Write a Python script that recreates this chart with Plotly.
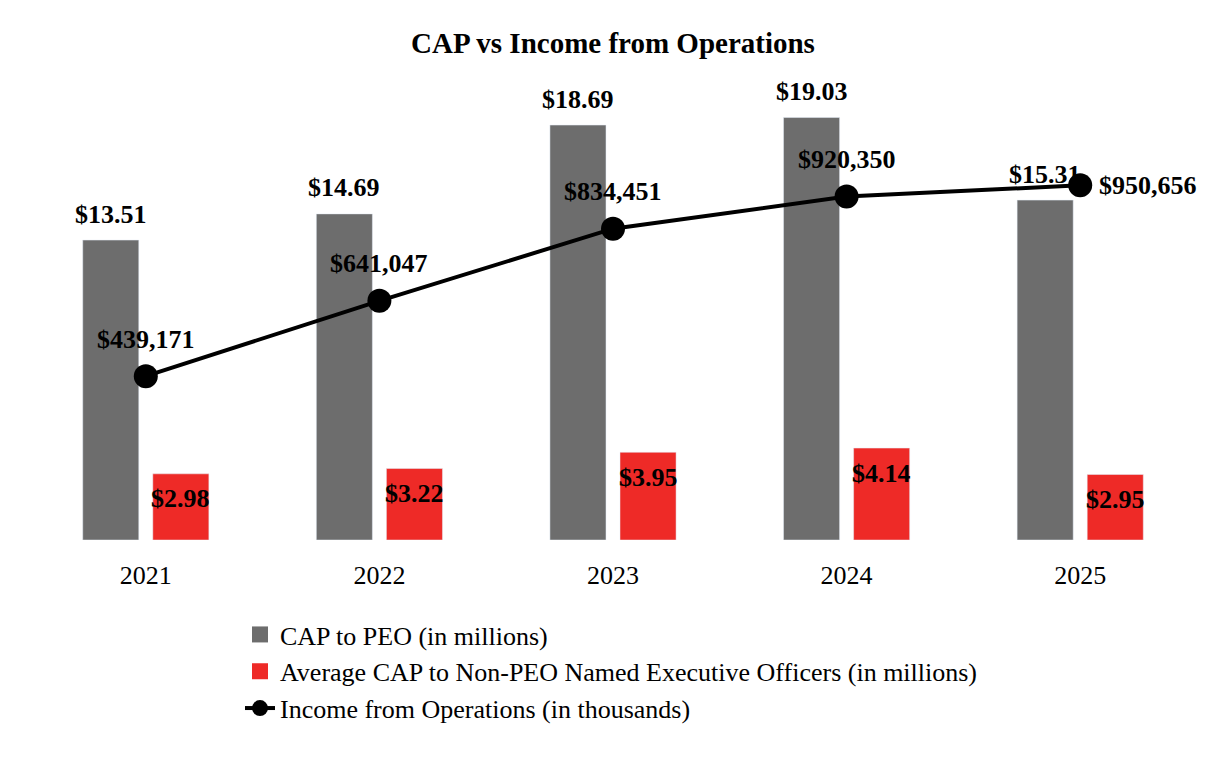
import plotly.graph_objects as go

years = ["2021", "2022", "2023", "2024", "2025"]
cap_peo = [13.51, 14.69, 18.69, 19.03, 15.31]
cap_neo = [2.98, 3.22, 3.95, 4.14, 2.95]
income = [439171, 641047, 834451, 920350, 950656]

cap_peo_labels = ["$%.2f" % v for v in cap_peo]
cap_neo_labels = ["$%.2f" % v for v in cap_neo]
income_labels = ["${:,}".format(v) for v in income]

FONT = "Liberation Serif"
GRAY = "#6d6d6d"
RED = "#ee2a27"

fig = go.Figure()
fig.add_trace(go.Bar(x=years, y=cap_peo, name="CAP to PEO (in millions)",
                     marker_color=GRAY, yaxis="y", showlegend=False))
fig.add_trace(go.Bar(x=years, y=cap_neo,
                     name="Average CAP to Non-PEO Named Executive Officers (in millions)",
                     marker_color=RED, yaxis="y", showlegend=False))
# legend proxies (larger square symbols)
fig.add_trace(go.Scatter(x=[years[0]], y=[None], mode="markers", name="CAP to PEO (in millions)",
                         marker=dict(symbol="square", size=26, color=GRAY)))
fig.add_trace(go.Scatter(x=[years[0]], y=[None], mode="markers",
                         name="Average CAP to Non-PEO Named Executive Officers (in millions)",
                         marker=dict(symbol="square", size=26, color=RED)))
fig.add_trace(go.Scatter(x=years, y=income, name="Income from Operations (in thousands)",
                         mode="lines+markers", yaxis="y2",
                         line=dict(color="black", width=4),
                         marker=dict(size=24, color="black")))

ann = []
lab_font = dict(family=FONT, size=26, color="black", weight="bold")
for i in range(len(years)):
    ann.append(dict(x=i, y=cap_peo[i], xref="x", yref="y", text=cap_peo_labels[i],
                    showarrow=False, xshift=-35, yshift=26, yanchor="middle",
                    font=lab_font))
    ann.append(dict(x=i, y=cap_neo[i], xref="x", yref="y", text=cap_neo_labels[i],
                    showarrow=False, xshift=35, yshift=-25, yanchor="middle",
                    font=lab_font))
    last = i == len(years) - 1
    ann.append(dict(x=i, y=income[i], xref="x", yref="y2", text=income_labels[i],
                    showarrow=False, xshift=68 if last else 0, yshift=0 if last else 37,
                    yanchor="middle", font=lab_font))

fig.update_layout(
    width=1226, height=760,
    margin=dict(l=29, r=29, t=96, b=220),
    paper_bgcolor="white", plot_bgcolor="white",
    title=dict(text="<b>CAP vs Income from Operations</b>", x=0.5, xanchor="center",
               y=1 - 43 / 760, yanchor="middle", yref="container",
               font=dict(family=FONT, size=29, color="black")),
    barmode="group", bargap=0.4, bargroupgap=0.2,
    xaxis=dict(type="category", categoryorder="array", categoryarray=years,
               range=[-0.5, len(years) - 0.5], showgrid=False, showline=False,
               zeroline=False, ticks="", ticklabelstandoff=17,
               tickfont=dict(family=FONT, size=26, color="black")),
    yaxis=dict(range=[0, 20], visible=False, showgrid=False, zeroline=False),
    yaxis2=dict(range=[0, 1190000], overlaying="y", side="right", visible=False,
                showgrid=False, zeroline=False),
    legend=dict(x=(240 - 29) / 1168, xanchor="left", y=-0.16, yanchor="top",
                font=dict(family=FONT, size=26, color="black"),
                traceorder="normal", tracegroupgap=0, itemsizing="trace",
                bgcolor="rgba(0,0,0,0)"),
    annotations=ann,
    showlegend=True,
)

fig.write_html("out.html")
